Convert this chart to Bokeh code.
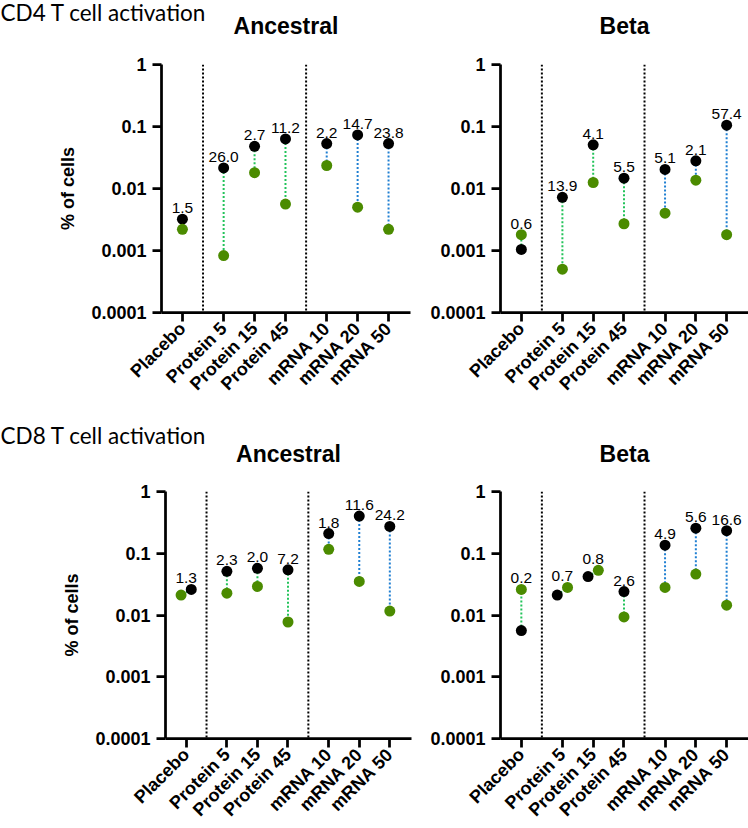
import math
from bokeh.plotting import figure
from bokeh.models import (Range1d, FixedTicker, Span, ColumnDataSource)
from bokeh.layouts import column, row
from bokeh.embed import file_html
from bokeh.resources import INLINE
from bokeh.core.properties import value

# ---------------- data ----------------
categories = ["Placebo", "Protein 5", "Protein 15", "Protein 45", "mRNA 10", "mRNA 20", "mRNA 50"]
cat_groups = [0, 1, 1, 1, 2, 2, 2]

row_titles = ["CD4 T cell activation", "CD8 T cell activation"]
panel_titles = ["Ancestral", "Beta"]

cd4_anc_black = [0.0032, 0.0215, 0.048, 0.063, 0.053, 0.073, 0.053]
cd4_anc_green = [0.0022, 0.00083, 0.018, 0.0056, 0.0235, 0.0050, 0.0022]
cd4_anc_labels = ["1.5", "26.0", "2.7", "11.2", "2.2", "14.7", "23.8"]

cd4_beta_black = [0.00104, 0.0072, 0.0507, 0.0147, 0.0203, 0.028, 0.105]
cd4_beta_green = [0.0018, 0.0005, 0.0125, 0.0027, 0.0040, 0.0136, 0.0018]
cd4_beta_labels = ["0.6", "13.9", "4.1", "5.5", "5.1", "2.1", "57.4"]

cd8_anc_black = [0.026, 0.051, 0.057, 0.054, 0.208, 0.40, 0.272]
cd8_anc_green = [0.021, 0.0226, 0.029, 0.0077, 0.116, 0.035, 0.0116]
cd8_anc_labels = ["1.3", "2.3", "2.0", "7.2", "1.8", "11.6", "24.2"]

cd8_beta_black = [0.0056, 0.021, 0.042, 0.024, 0.135, 0.255, 0.232]
cd8_beta_green = [0.026, 0.028, 0.053, 0.0093, 0.028, 0.046, 0.0144]
cd8_beta_labels = ["0.2", "0.7", "0.8", "2.6", "4.9", "5.6", "16.6"]

y_ticks = [0.0001, 0.001, 0.01, 0.1, 1]
y_tick_labels = ["0.0001", "0.001", "0.01", "0.1", "1"]

# ---------------- style ----------------
BLACK = "#000000"
GREEN_DOT = "#4b8b00"
GREEN_LINE = "#22c35a"
BLUE_LINE = "#1f7fd2"
FONT = "Liberation Sans"
HEAD_FONT = "Lato"

positions = [3 * i + g for i, g in enumerate(cat_groups)]
dividers = []
for k in range(len(cat_groups) - 1):
    if cat_groups[k] != cat_groups[k + 1]:
        dividers.append((positions[k] + positions[k + 1]) / 2)
line_colors = [BLUE_LINE if g == 2 else GREEN_LINE for g in cat_groups]
X0, X1 = -2.03, 22.13
Y0, Y1 = y_ticks[0], y_ticks[-1]


def make_panel(black, green, labels, fw, fh, bl, br, bt, bb):
    p = figure(
        x_axis_type="linear", y_axis_type="log",
        x_range=Range1d(X0, X1), y_range=Range1d(Y0, Y1),
        frame_width=fw, frame_height=fh,
        min_border_left=bl, min_border_right=br,
        min_border_top=bt, min_border_bottom=bb,
        output_backend="svg", toolbar_location=None, tools="",
    )
    p.outline_line_color = None
    p.grid.visible = False
    p.background_fill_color = "white"
    p.border_fill_color = "white"

    xb, xg = [], []
    for x, b, g in zip(positions, black, green):
        if abs(math.log10(b) - math.log10(g)) < 0.15:
            off = 0.5
            if b < g:
                xb.append(x - off); xg.append(x + off)
            else:
                xb.append(x + off); xg.append(x - off)
        else:
            xb.append(x); xg.append(x)

    for d in dividers:
        p.add_layout(Span(location=d, dimension="height", line_color="black",
                          line_width=2, line_dash="2 2"))

    src = ColumnDataSource(dict(xb=xb, xg=xg, b=black, g=green, c=line_colors,
                                top=[max(b, g) for b, g in zip(black, green)],
                                xl=positions, lab=labels))
    p.segment(x0="xb", y0="b", x1="xg", y1="g", source=src, line_color="c",
              line_width=2, line_dash="2 2")
    p.scatter(x="xb", y="b", source=src, size=11, fill_color=BLACK, line_color=None)
    p.scatter(x="xg", y="g", source=src, size=11, fill_color=GREEN_DOT, line_color=None)
    p.text(x="xl", y="top", text="lab", source=src, text_align="center",
           text_baseline="alphabetic", y_offset=-11, text_font_size="15.5px",
           text_font=value(FONT), text_color="black", level="overlay")

    xa = p.xaxis[0]
    xa.ticker = FixedTicker(ticks=positions)
    xa.major_label_overrides = {pos: c for pos, c in zip(positions, categories)}
    xa.major_label_orientation = math.pi / 4
    ya = p.yaxis[0]
    ya.ticker = FixedTicker(ticks=y_ticks)
    ya.major_label_overrides = {t: s for t, s in zip(y_ticks, y_tick_labels)}
    for ax in (xa, ya):
        ax.axis_line_width = 2.75
        ax.axis_line_color = "black"
        ax.major_tick_line_width = 2.75
        ax.major_tick_line_color = "black"
        ax.major_tick_out = 9
        ax.major_tick_in = 0
        ax.minor_tick_line_color = None
        ax.major_label_text_font = FONT
        ax.major_label_text_font_style = "bold"
        ax.major_label_text_color = "black"
    xa.major_label_text_font_size = "18px"
    xa.major_label_standoff = 4
    ya.major_label_text_font_size = "18px"
    ya.major_label_standoff = 6
    return p


def add_ylabel(p):
    ya = p.yaxis[0]
    ya.axis_label = "% of cells"
    ya.axis_label_text_font = FONT
    ya.axis_label_text_font_style = "bold"
    ya.axis_label_text_font_size = "18px"
    ya.axis_label_text_color = "black"
    ya.axis_label_standoff = 10


def outside_text(p, fw, fh, text, sx, sy_above, align, font, size, style):
    # position in pixels relative to the frame (from its left edge, above its top)
    xd = X0 + (X1 - X0) * sx / fw
    decades = math.log10(Y1) - math.log10(Y0)
    yd = 10 ** (math.log10(Y1) + decades * sy_above / fh)
    p.text(x=[xd], y=[yd], text=[text], text_align=align, text_baseline="middle",
           text_font=value(font), text_font_size=size, text_font_style=style,
           text_color="black", level="overlay")


p1 = make_panel(cd4_anc_black, cd4_anc_green, cd4_anc_labels, 249, 248, 161, 8, 64, 108)
p2 = make_panel(cd4_beta_black, cd4_beta_green, cd4_beta_labels, 248, 248, 82, 0, 64, 108)
p3 = make_panel(cd8_anc_black, cd8_anc_green, cd8_anc_labels, 246, 247, 165, 7, 71, 90)
p4 = make_panel(cd8_beta_black, cd8_beta_green, cd8_beta_labels, 248, 247, 82, 0, 71, 90)
add_ylabel(p1)
add_ylabel(p3)

outside_text(p1, 249, 248, panel_titles[0], 249 / 2, 39, "center", FONT, "23px", "bold")
outside_text(p2, 248, 248, panel_titles[1], 248 / 2, 39, "center", FONT, "23px", "bold")
outside_text(p3, 246, 247, panel_titles[0], 246 / 2, 38, "center", FONT, "23px", "bold")
outside_text(p4, 248, 247, panel_titles[1], 248 / 2, 38, "center", FONT, "23px", "bold")
outside_text(p1, 249, 248, row_titles[0], -161, 52, "left", HEAD_FONT, "22.5px", "normal")
outside_text(p3, 246, 247, row_titles[1], -165, 56, "left", HEAD_FONT, "22.5px", "normal")

layout = column(row(p1, p2), row(p3, p4))

with open("out.html", "w") as f:
    f.write(file_html(layout, INLINE))
